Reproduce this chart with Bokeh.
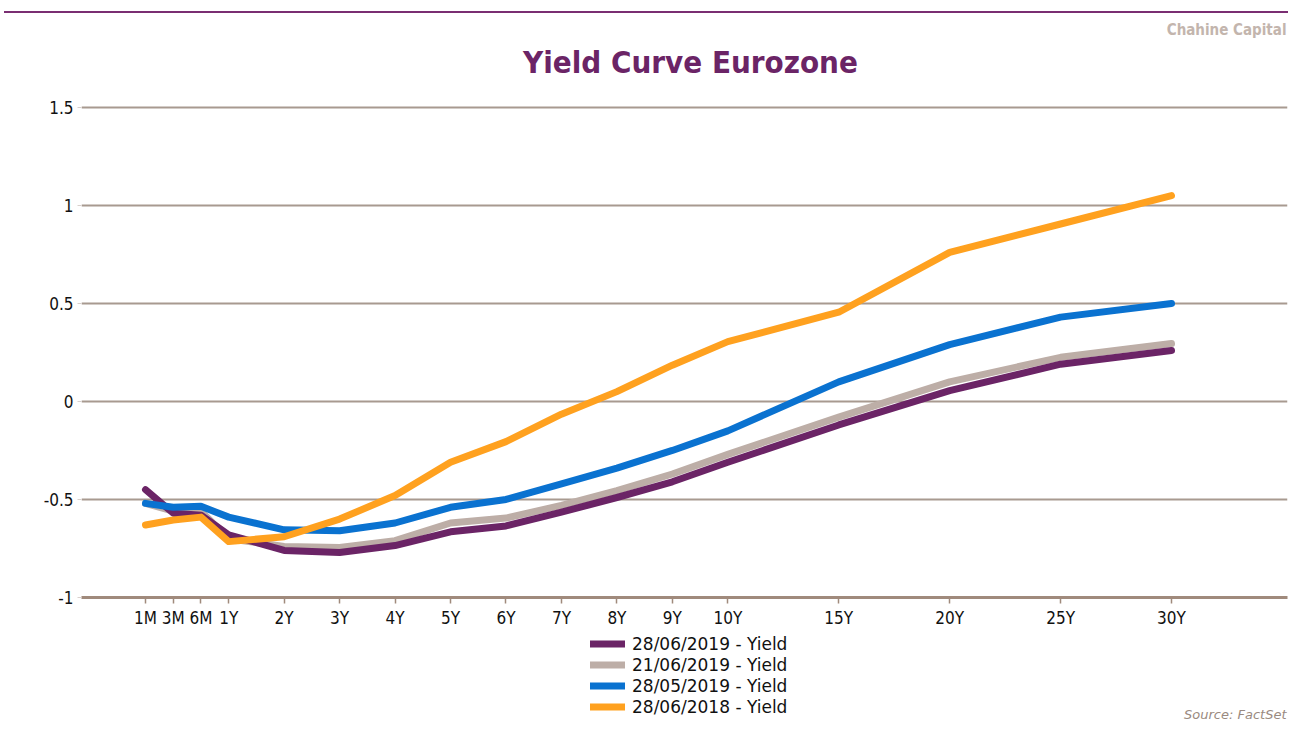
from bokeh.plotting import figure
from bokeh.layouts import column
from bokeh.models import (FixedTicker, Legend, LegendItem, Label, Div, ColumnDataSource)
from bokeh.embed import file_html
from bokeh.resources import INLINE

tenors = ["1M", "3M", "6M", "1Y", "2Y", "3Y", "4Y", "5Y", "6Y", "7Y", "8Y", "9Y", "10Y",
          "15Y", "20Y", "25Y", "30Y"]
# axis position of each tenor (the chart's own non-linear tenor scale)
tenor_pos = [0, 0.5, 1, 1.5, 2.5, 3.5, 4.5, 5.5, 6.5, 7.5, 8.5, 9.5, 10.5,
             12.5, 14.5, 16.5, 18.5]

y_2019_06_28 = [-0.45, -0.57, -0.58, -0.68, -0.76, -0.77, -0.735, -0.665, -0.635, -0.565,
                -0.49, -0.41, -0.31, -0.12, 0.055, 0.19, 0.26]
y_2019_06_21 = [-0.52, -0.56, -0.56, -0.70, -0.74, -0.745, -0.71, -0.62, -0.595, -0.53,
                -0.455, -0.37, -0.27, -0.08, 0.10, 0.225, 0.295]
y_2019_05_28 = [-0.52, -0.54, -0.535, -0.59, -0.655, -0.66, -0.62, -0.54, -0.50, -0.42,
                -0.34, -0.25, -0.15, 0.10, 0.29, 0.43, 0.50]
y_2018_06_28 = [-0.63, -0.605, -0.59, -0.715, -0.69, -0.60, -0.48, -0.31, -0.205, -0.065,
                0.05, 0.185, 0.305, 0.455, 0.76, 0.905, 1.05]

series_labels = ["28/06/2019 - Yield", "21/06/2019 - Yield", "28/05/2019 - Yield", "28/06/2018 - Yield"]
series_values = [y_2019_06_28, y_2019_06_21, y_2019_05_28, y_2018_06_28]
series_colors = ["#6b2466", "#bdaea7", "#0a72d0", "#ffa11f"]
draw_order = [1, 0, 2, 3]

y_ticks = [-1, -0.5, 0, 0.5, 1, 1.5]
y_tick_labels = ["-1", "-0.5", "0", "0.5", "1", "1.5"]

FONT = "DejaVu Sans"
CFONT = "DejaVu Sans Condensed"
W = 1288
HEAD = 13          # strip with the purple rule
MAIN_BOTTOM = 630  # bottom of the main figure (page px)
FOOT = 721 - MAIN_BOTTOM
unit = 55.46       # px per tenor-position unit
yunit = 196.4      # px per yield unit
frame_left, frame_right = 81, 1287
axis_y = 598       # page px of the x-axis line
x_start = -(145 - frame_left) / unit
x_end = x_start + (frame_right - frame_left) / unit
y_end = 1.5 + (107 - HEAD) / yunit


def img_y(py):
    return 1.5 + (107 - py) / yunit


def img_x(px):
    return (px - 145) / unit


# ---- purple rule ----
rule = Div(text="", width=W - 4, height=2, margin=(HEAD - 2, 0, 0, 4),
           styles={"background-color": "#7a2e72"})

# ---- main chart ----
main_h = MAIN_BOTTOM - HEAD
p = figure(width=W, height=main_h, output_backend="svg", toolbar_location=None,
           x_range=(x_start, x_end), y_range=(-1.0, y_end),
           min_border_left=frame_left, min_border_right=W - frame_right,
           min_border_top=0, min_border_bottom=MAIN_BOTTOM - axis_y)
p.outline_line_color = None
p.background_fill_color = "white"
p.border_fill_color = "white"

p.xgrid.visible = False
p.ygrid.grid_line_color = "#a89a90"
p.ygrid.grid_line_width = 2
p.ygrid.ticker = FixedTicker(ticks=y_ticks)

p.yaxis.ticker = FixedTicker(ticks=y_ticks)
p.yaxis.major_label_overrides = {t: l for t, l in zip(y_ticks, y_tick_labels)}
p.yaxis.axis_line_color = None
p.yaxis.major_tick_line_color = "#d8d0cc"
p.yaxis.major_tick_out = 4
p.yaxis.major_tick_in = 0
p.yaxis.minor_tick_line_color = None
p.yaxis.major_label_text_font = CFONT
p.yaxis.major_label_text_font_size = "17px"
p.yaxis.major_label_text_color = "#111111"
p.yaxis.major_label_standoff = 4

p.xaxis.ticker = FixedTicker(ticks=tenor_pos)
p.xaxis.major_label_overrides = {t: l for t, l in zip(tenor_pos, tenors)}
p.xaxis.axis_line_color = "#a08a7c"
p.xaxis.axis_line_width = 3
p.xaxis.major_tick_line_color = "#a08a7c"
p.xaxis.major_tick_line_width = 1.5
p.xaxis.major_tick_out = 6
p.xaxis.major_tick_in = 0
p.xaxis.minor_tick_line_color = None
p.xaxis.major_label_text_font = CFONT
p.xaxis.major_label_text_font_size = "17px"
p.xaxis.major_label_text_color = "#111111"
p.xaxis.major_label_standoff = 4

for i in draw_order:
    src = ColumnDataSource(dict(x=tenor_pos, y=series_values[i]))
    p.line("x", "y", source=src, line_color=series_colors[i], line_width=7,
           line_cap="round", line_join="round")

p.add_layout(Label(x=img_x(690), y=img_y(62), text="Yield Curve Eurozone", text_align="center",
                   text_baseline="middle", text_font=CFONT, text_font_style="bold",
                   text_font_size="31px", text_color="#6b2466"))
p.add_layout(Label(x=img_x(frame_right - 1), y=img_y(30), text="Chahine Capital", text_align="right",
                   text_baseline="middle", text_font=CFONT, text_font_style="bold",
                   text_font_size="15px", text_color="#c3b5ad"))

# ---- footer: legend and source ----
foot = figure(width=W, height=FOOT, output_backend="svg", toolbar_location=None,
              x_range=(frame_left, frame_right), y_range=(0, FOOT),
              x_axis_location=None, y_axis_location=None,
              min_border_left=frame_left, min_border_right=W - frame_right,
              min_border_top=0, min_border_bottom=0)
foot.outline_line_color = None
foot.background_fill_color = "white"
foot.border_fill_color = "white"
foot.xgrid.visible = False
foot.ygrid.visible = False

items = []
for i in range(4):
    # off-screen sample segment, only used to draw the legend swatch
    r = foot.line(x=[-100, -90], y=[-50, -50], line_color=series_colors[i], line_width=7,
                  line_cap="round")
    items.append(LegendItem(label=series_labels[i], renderers=[r]))
legend = Legend(items=items, location=(590 - frame_left, FOOT - (717 - MAIN_BOTTOM)),
                orientation="vertical",
                padding=0, margin=0, spacing=0, label_height=21, glyph_height=21,
                glyph_width=35, label_standoff=7,
                border_line_alpha=0, background_fill_alpha=0,
                label_text_font=FONT, label_text_font_size="17px", label_text_color="#111111")
foot.add_layout(legend, "center")
foot.add_layout(Label(x=frame_right - 1, y=0, text="Source: FactSet", text_align="right",
                      text_baseline="bottom", text_font=FONT, text_font_style="italic",
                      text_font_size="13px", text_color="#9a8a80"))

layout = column(rule, p, foot, spacing=0)
open("out.html", "w").write(file_html(layout, INLINE))
